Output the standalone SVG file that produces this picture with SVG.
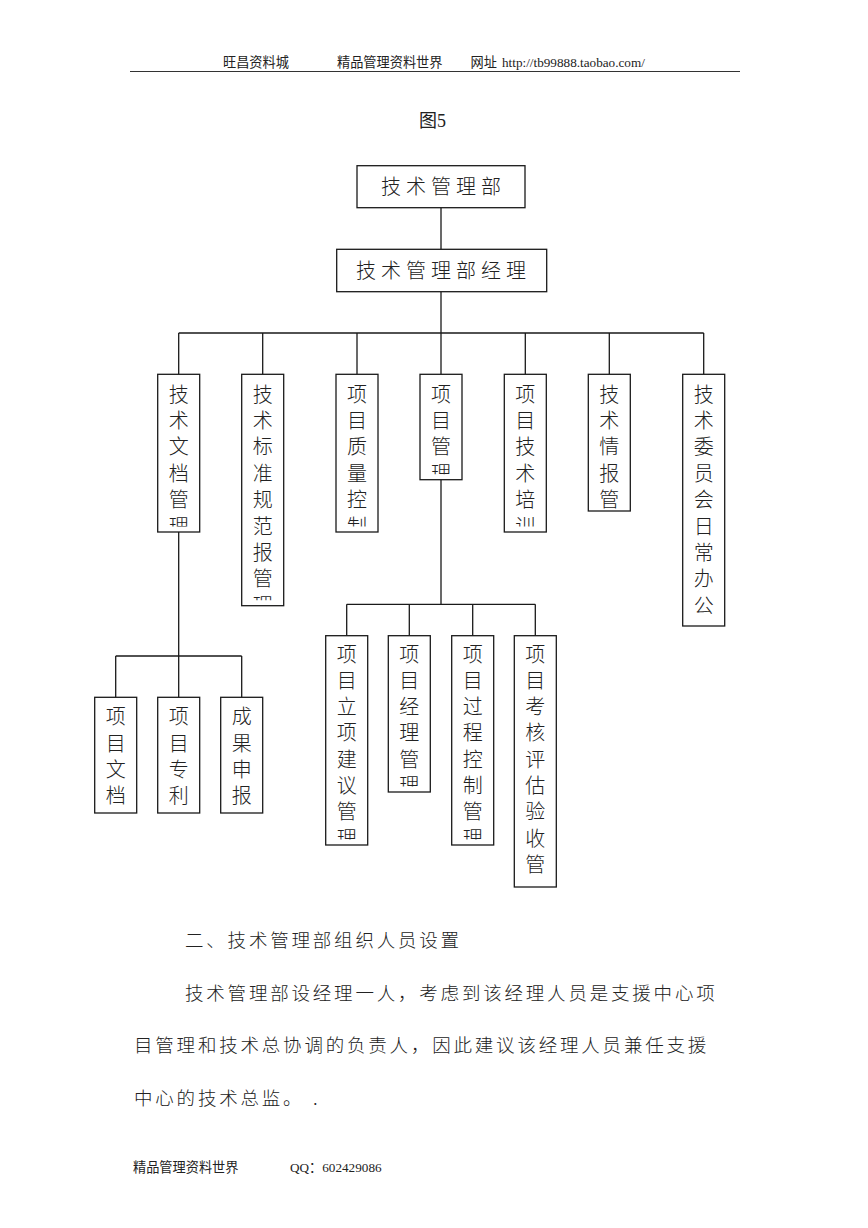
<svg xmlns="http://www.w3.org/2000/svg" width="868" height="1228" viewBox="0 0 868 1228">
<style>
.bx{fill:#fff;stroke:#1a1a1a;stroke-width:1.3}
.ln{fill:none;stroke:#1a1a1a;stroke-width:1.3}
.t{font-family:"Noto Sans CJK SC","Noto Sans",sans-serif;font-size:20px;font-weight:300;fill:#222;text-anchor:middle}
.hd{font-family:"Liberation Serif","Noto Sans CJK SC",serif;font-size:13.2px;fill:#222}
.p{font-family:"Noto Sans CJK SC","Noto Sans",sans-serif;font-size:18.5px;font-weight:300;letter-spacing:2.8px;fill:#222}
</style>
<defs>
<clipPath id="c1"><rect x="150" y="370" width="60" height="156.5"/></clipPath>
<clipPath id="c2"><rect x="235" y="370" width="60" height="230.2"/></clipPath>
<clipPath id="c3"><rect x="330" y="370" width="60" height="156.5"/></clipPath>
<clipPath id="c4"><rect x="410" y="370" width="60" height="104.2"/></clipPath>
<clipPath id="c5"><rect x="495" y="370" width="60" height="156.5"/></clipPath>
<clipPath id="ca"><rect x="320" y="630" width="60" height="209.5"/></clipPath>
<clipPath id="cb"><rect x="380" y="630" width="60" height="156.5"/></clipPath>
<clipPath id="cc"><rect x="445" y="630" width="60" height="209.5"/></clipPath>
</defs>
<rect width="868" height="1228" fill="#fff"/>

<g id="header">
<text class="hd" x="223" y="66.5">旺昌资料城</text>
<text class="hd" x="337" y="66.5">精品管理资料世界</text>
<text class="hd" x="470.5" y="66.5">网址 <tspan x="502">http://tb99888.taobao.com/</tspan></text>
<line x1="130" y1="71.5" x2="740" y2="71.5" stroke="#333" stroke-width="1"/>
<text x="419" y="127" style="font-family:'Liberation Serif','Noto Sans CJK SC',serif;font-size:18px;fill:#222">图5</text>
</g>

<g id="connectors">
<path class="ln" d="M441 207.7V249.3M441 291.7V333M178.7 333H703.7M178.7 333V374.3M262.7 333V374.3M357 333V374.3M441 333V374.3M525.3 333V374.3M609.3 333V374.3M703.7 333V374.3"/>
<path class="ln" d="M441 479.7V604.3M346.7 604.3H535.3M346.7 604.3V635.7M409.3 604.3V635.7M472.7 604.3V635.7M535.3 604.3V635.7"/>
<path class="ln" d="M178.7 532V656M115.7 656H241.7M115.7 656V697.3M178.7 656V697.3M241.7 656V697.3"/>
</g>

<g id="n-dept">
<rect class="bx" x="357" y="165.7" width="168" height="42"/>
<text class="t" x="391 416 441 466 491" y="193.5">技术管理部</text>
</g>
<g id="n-manager">
<rect class="bx" x="336.7" y="249.3" width="210" height="42.4"/>
<text class="t" x="366 391 416 441 466 491 516" y="277.5">技术管理部经理</text>
</g>

<g id="n-doc">
<rect class="bx" x="157.7" y="374.3" width="42" height="157.7"/>
<text class="t" clip-path="url(#c1)" x="178.7 178.7 178.7 178.7 178.7 178.7" y="401.5 427.9 454.3 480.7 507.1 533.5">技术文档管理</text>
</g>
<g id="n-std">
<rect class="bx" x="241.7" y="374.3" width="42" height="231.4"/>
<text class="t" clip-path="url(#c2)" x="262.7 262.7 262.7 262.7 262.7 262.7 262.7 262.7 262.7" y="401.5 427.9 454.3 480.7 507.1 533.5 559.9 586.3 612.7">技术标准规范报管理</text>
</g>
<g id="n-quality">
<rect class="bx" x="336" y="374.3" width="42" height="157.7"/>
<text class="t" clip-path="url(#c3)" x="357 357 357 357 357 357" y="401.5 427.9 454.3 480.7 507.1 533.5">项目质量控制</text>
</g>
<g id="n-pm">
<rect class="bx" x="420" y="374.3" width="42" height="105.4"/>
<text class="t" clip-path="url(#c4)" x="441 441 441 441" y="401.5 427.9 454.3 480.7">项目管理</text>
</g>
<g id="n-train">
<rect class="bx" x="504.3" y="374.3" width="42" height="157.7"/>
<text class="t" clip-path="url(#c5)" x="525.3 525.3 525.3 525.3 525.3 525.3" y="401.5 427.9 454.3 480.7 507.1 533.5">项目技术培训</text>
</g>
<g id="n-intel">
<rect class="bx" x="588.3" y="374.3" width="42" height="136.7"/>
<text class="t" x="609.3 609.3 609.3 609.3 609.3" y="401.5 427.9 454.3 480.7 507.1">技术情报管</text>
</g>
<g id="n-committee">
<rect class="bx" x="682.7" y="374.3" width="42" height="251.7"/>
<text class="t" x="703.7 703.7 703.7 703.7 703.7 703.7 703.7 703.7 703.7" y="401.5 427.9 454.3 480.7 507.1 533.5 559.9 586.3 612.7">技术委员会日常办公</text>
</g>

<g id="n-initiation">
<rect class="bx" x="325.7" y="635.7" width="42" height="209.3"/>
<text class="t" clip-path="url(#ca)" x="346.7 346.7 346.7 346.7 346.7 346.7 346.7 346.7" y="661.5 687.8 714.1 740.4 766.7 793 819.3 845.6">项目立项建议管理</text>
</g>
<g id="n-pmgr">
<rect class="bx" x="388.3" y="635.7" width="42" height="156.3"/>
<text class="t" clip-path="url(#cb)" x="409.3 409.3 409.3 409.3 409.3 409.3" y="661.5 687.8 714.1 740.4 766.7 793">项目经理管理</text>
</g>
<g id="n-process">
<rect class="bx" x="451.7" y="635.7" width="42" height="209.3"/>
<text class="t" clip-path="url(#cc)" x="472.7 472.7 472.7 472.7 472.7 472.7 472.7 472.7" y="661.5 687.8 714.1 740.4 766.7 793 819.3 845.6">项目过程控制管理</text>
</g>
<g id="n-eval">
<rect class="bx" x="514.3" y="635.7" width="42" height="251.3"/>
<text class="t" x="535.3 535.3 535.3 535.3 535.3 535.3 535.3 535.3 535.3" y="661.5 687.8 714.1 740.4 766.7 793 819.3 845.6 871.9">项目考核评估验收管</text>
</g>

<g id="n-pdoc">
<rect class="bx" x="94.7" y="697.3" width="42" height="115.7"/>
<text class="t" x="115.7 115.7 115.7 115.7" y="724.2 750.5 776.8 803.1">项目文档</text>
</g>
<g id="n-patent">
<rect class="bx" x="157.7" y="697.3" width="42" height="115.7"/>
<text class="t" x="178.7 178.7 178.7 178.7" y="724.2 750.5 776.8 803.1">项目专利</text>
</g>
<g id="n-result">
<rect class="bx" x="220.7" y="697.3" width="42" height="115.7"/>
<text class="t" x="241.7 241.7 241.7 241.7" y="724.2 750.5 776.8 803.1">成果申报</text>
</g>

<g id="body">
<text class="p" x="185" y="947">二、技术管理部组织人员设置</text>
<text class="p" x="185" y="1000">技术管理部设经理一人，考虑到该经理人员是支援中心项</text>
<text class="p" x="134" y="1052">目管理和技术总协调的负责人，因此建议该经理人员兼任支援</text>
<text class="p" x="134" y="1105">中心的技术总监。<tspan x="313">.</tspan></text>
</g>

<g id="footer">
<text class="hd" x="133" y="1172">精品管理资料世界</text>
<text class="hd" x="290" y="1172">QQ：602429086</text>
</g>
</svg>
